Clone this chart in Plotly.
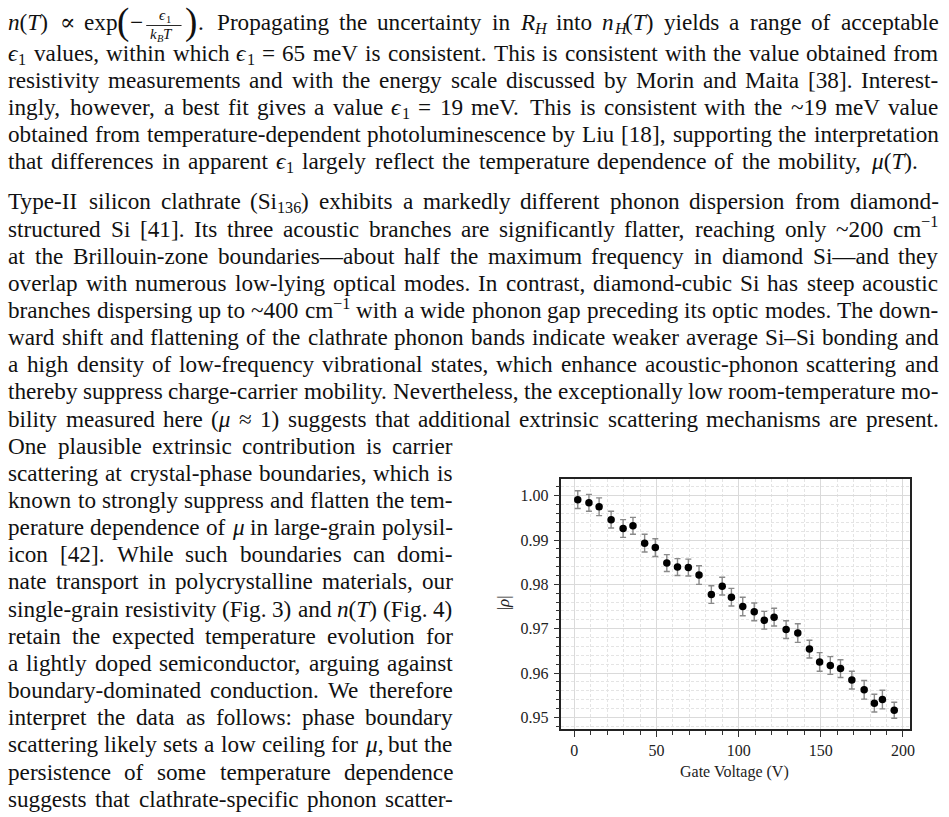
import re
import plotly.graph_objects as go

W, H = 949, 817
SERIF = "Liberation Serif, DejaVu Serif, serif"
INK = "#111111"

# chart data
gate_voltage = [2.1, 8.9, 15.1, 22.4, 29.7, 35.7, 42.8, 49.3, 56.3, 62.8,
                69.4, 75.9, 83.4, 90.0, 95.6, 102.5, 109.5, 115.6, 121.6, 128.9,
                136.0, 143.1, 149.3, 155.8, 162.0, 168.9, 176.4, 182.6, 187.5, 194.7]
rho_abs = [0.9991, 0.9984, 0.9975, 0.9946, 0.9926, 0.9932, 0.9893, 0.9883, 0.9848, 0.9839,
           0.9838, 0.9821, 0.9777, 0.9796, 0.9771, 0.9750, 0.9738, 0.9719, 0.9726, 0.9698,
           0.9690, 0.9654, 0.9625, 0.9617, 0.9610, 0.9584, 0.9562, 0.9532, 0.9540, 0.9516]
rho_err = [0.0020, 0.0019, 0.0020, 0.0019, 0.0020, 0.0019, 0.0020, 0.0020, 0.0019, 0.0019,
           0.0019, 0.0021, 0.0020, 0.0020, 0.0020, 0.0021, 0.0020, 0.0020, 0.0020, 0.0020,
           0.0021, 0.0020, 0.0021, 0.0020, 0.0020, 0.0020, 0.0021, 0.0020, 0.0021, 0.0018]

EPS = "<i>ϵ</i><sub>1</sub>"
MU = "<i>μ</i>"

line1_tail = ("Propagating the uncertainty in <i>R</i><sub><i>H</i></sub> into "
              "<i>n</i><sub><i>H</i></sub>(<i>T</i>) yields a range of acceptable")
para1 = [
    f"{EPS} values, within which {EPS} = 65 meV is consistent. This is consistent with the value obtained from",
    "resistivity measurements and with the energy scale discussed by Morin and Maita [38]. Interest-",
    f"ingly, however, a best fit gives a value {EPS} = 19 meV. This is consistent with the ~19 meV value",
    "obtained from temperature-dependent photoluminescence by Liu [18], supporting the interpretation",
    f"that differences in apparent {EPS} largely reflect the temperature dependence of the mobility, {MU}(<i>T</i>).",
]
para2 = [
    "Type-II silicon clathrate (Si<sub>136</sub>) exhibits a markedly different phonon dispersion from diamond-",
    "structured Si [41]. Its three acoustic branches are significantly flatter, reaching only ~200 cm<sup>−1</sup>",
    "at the Brillouin-zone boundaries—about half the maximum frequency in diamond Si—and they",
    "overlap with numerous low-lying optical modes. In contrast, diamond-cubic Si has steep acoustic",
    "branches dispersing up to ~400 cm<sup>−1</sup> with a wide phonon gap preceding its optic modes. The down-",
    "ward shift and flattening of the clathrate phonon bands indicate weaker average Si–Si bonding and",
    "a high density of low-frequency vibrational states, which enhance acoustic-phonon scattering and",
    "thereby suppress charge-carrier mobility. Nevertheless, the exceptionally low room-temperature mo-",
    f"bility measured here ({MU} ≈ 1) suggests that additional extrinsic scattering mechanisms are present.",
]
para3 = [
    "One plausible extrinsic contribution is carrier",
    "scattering at crystal-phase boundaries, which is",
    "known to strongly suppress and flatten the tem-",
    f"perature dependence of {MU} in large-grain polysil-",
    "icon [42]. While such boundaries can domi-",
    "nate transport in polycrystalline materials, our",
    "single-grain resistivity (Fig. 3) and <i>n</i>(<i>T</i>) (Fig. 4)",
    "retain the expected temperature evolution for",
    "a lightly doped semiconductor, arguing against",
    "boundary-dominated conduction. We therefore",
    "interpret the data as follows: phase boundary",
    f"scattering likely sets a low ceiling for {MU}, but the",
    "persistence of some temperature dependence",
    "suggests that clathrate-specific phonon scatter-",
]

# rough Times widths (1/1000 em) so words can be spread to justify lines
WID = dict(zip(" ()[],.-:;=+~", [250, 333, 333, 333, 333, 250, 250, 333, 278, 278, 564, 564, 541]))
WID.update({d: 500 for d in "0123456789"})
WID.update(dict(zip("ABCDEFGHIJKLMNOPQRSTUVWXYZ",
                    [722, 667, 667, 722, 611, 556, 722, 722, 333, 389, 722, 611, 889,
                     722, 722, 556, 722, 667, 556, 611, 722, 722, 944, 722, 722, 611])))
WID.update(dict(zip("abcdefghijklmnopqrstuvwxyz",
                    [444, 500, 444, 500, 444, 333, 500, 500, 278, 278, 500, 278, 778,
                     500, 500, 500, 500, 333, 389, 278, 500, 500, 722, 500, 500, 444])))
WID.update({"—": 1000, "–": 500, "−": 564, "≈": 549, "∝": 713,
            "μ": 500, "ϵ": 440, "ρ": 500})
ITAL = {"B": 611, "H": 722, "R": 611, "T": 556, "k": 444}


def parse(word):
    segs, ital, mode = [], False, "n"
    for part in re.split(r"(</?(?:i|sub|sup)>)", word):
        if part == "<i>":
            ital = True
        elif part == "</i>":
            ital = False
        elif part in ("<sub>", "<sup>"):
            mode = part[1:-1]
        elif part in ("</sub>", "</sup>"):
            mode = "n"
        elif part:
            segs.append((part, ital, mode))
    return segs


def units(segs):
    total = 0
    for txt, ital, mode in segs:
        w = sum((ITAL.get(c) if ital and c in ITAL else WID.get(c, 500)) for c in txt) / 1000
        total += w * (0.7 if mode != "n" else 1)
    return total


annotations = []
shapes = []


def put(html, x, ymid, size):
    annotations.append(dict(text=html, x=x / W, y=1 - ymid / H, xref="paper", yref="paper",
                            xanchor="left", yanchor="middle", showarrow=False, borderpad=0,
                            font=dict(family=SERIF, size=size, color=INK)))


def place_word(segs, x, yc, base):
    # group segments by mode into runs (one annotation each)
    runs = []
    for txt, ital, mode in segs:
        html = f"<i>{txt}</i>" if ital else txt
        if runs and runs[-1][1] == mode:
            runs[-1][0].append((html, txt, ital, mode))
        else:
            runs.append(([(html, txt, ital, mode)], mode))
    for parts, mode in runs:
        size = base * (0.7 if mode != "n" else 1)
        shift = {"n": 0, "sub": 0.2 * base, "sup": -0.38 * base}[mode]
        ymid = yc + 0.225 * base + shift - 0.3375 * size
        put("".join(p[0] for p in parts), x, ymid, size)
        x += units([(p[1], p[2], p[3]) for p in parts]) * base


LEFT, RIGHT, NARROW = 7.3, 942.0, 454.0
STEP = 27.15
specs = [(line1_tail, 25.0, 217.3, RIGHT)]
for k, s in enumerate(para1):
    specs.append((s, 55.5 + STEP * k, LEFT, 920.0 if k == len(para1) - 1 else RIGHT))
for k, s in enumerate(para2):
    specs.append((s, 204.0 + STEP * k, LEFT, RIGHT))
for k, s in enumerate(para3):
    specs.append((s, 204.0 + STEP * (len(para2) + k), LEFT, NARROW))

FS = 23.2
for s, y, x0, x1 in specs:
    ws = [parse(w) for w in s.split(" ")]
    FS = min(FS, (x1 - x0) / (sum(units(w) for w in ws) + 0.18 * (len(ws) - 1)))

for s, y, x0, x1 in specs:
    ws = [parse(w) for w in s.split(" ")]
    widths = [units(w) * FS for w in ws]
    gap = (x1 - x0 - sum(widths)) / max(len(ws) - 1, 1)
    x = x0
    for w, wd in zip(ws, widths):
        place_word(w, x, y, FS)
        x += wd + gap

# opening formula of line 1: n(T) ∝ exp(−ϵ1/kBT).
y1 = 25.0
PAREN = 37
place_word(parse("<i>n</i>(<i>T</i>)"), 7.3, y1, FS)
place_word(parse("∝"), 59.0, y1, FS)
place_word(parse("exp"), 83.0, y1, FS)
put("(", 116.5, y1 - 0.0875 * PAREN, PAREN)
place_word(parse("−"), 130.0, y1, FS)
small = 15.0
place_word(parse(EPS), 159.0, 16.5, small)
shapes.append(dict(type="line", xref="paper", yref="paper", x0=147 / W, x1=182.5 / W,
                   y0=1 - 25.5 / H, y1=1 - 25.5 / H, line=dict(color=INK, width=0.9)))
place_word(parse("<i>k</i><sub><i>B</i></sub><i>T</i>"), 150.0, 35.5, small)
put(")", 184.5, y1 - 0.0875 * PAREN, PAREN)
place_word(parse("."), 198.5, y1, FS)

# axis titles of the small chart
annotations.append(dict(text="Gate Voltage (V)", x=738.5 / W, y=1 - 771.5 / H, xref="paper",
                        yref="paper", xanchor="center", yanchor="middle", showarrow=False,
                        font=dict(family=SERIF, size=16, color="#222")))
annotations.append(dict(text="|<i>ρ</i>|", x=506 / W, y=1 - 603 / H, xref="paper",
                        yref="paper", xanchor="center", yanchor="middle", showarrow=False,
                        textangle=-90, font=dict(family=SERIF, size=17, color="#222")))

fig = go.Figure()
fig.add_trace(go.Scatter(
    x=gate_voltage, y=rho_abs, mode="markers",
    marker=dict(size=7.5, color="black"),
    error_y=dict(type="data", array=rho_err, color="#8a8a8a", thickness=1.4, width=3),
    showlegend=False, hoverinfo="skip",
))

axis_common = dict(
    ticks="outside", ticklen=6, tickwidth=1, tickcolor="#333",
    showline=True, linecolor="#222", linewidth=1.5, mirror=True,
    showgrid=True, gridcolor="#dadada", gridwidth=1.2, zeroline=False,
    tickfont=dict(family=SERIF, size=16, color="#222"),
)
minor_common = dict(ticks="outside", ticklen=4, tickcolor="#333", showgrid=True,
                    gridcolor="#e4e4e4", griddash="3px,2px", gridwidth=0.8)
fig.update_xaxes(
    domain=[564.3 / W, 915.0 / W], range=[-7.9, 204.4], tick0=0, dtick=50,
    ticklabelstandoff=0, minor=dict(dtick=10, **minor_common), **axis_common,
)
fig.update_yaxes(
    domain=[1 - 729.3 / H, 1 - 479.3 / H], range=[0.9473, 1.0037], tick0=0.95, dtick=0.01,
    tickformat=".2f", ticklabelstandoff=2, minor=dict(dtick=0.002, **minor_common),
    **axis_common,
)
fig.update_layout(
    width=W, height=H, autosize=False,
    margin=dict(l=0, r=0, t=0, b=0),
    paper_bgcolor="white", plot_bgcolor="white",
    annotations=annotations, shapes=shapes,
)

fig.write_html("out.html", config={"displayModeBar": False},
               post_script="document.body.style.margin='0';document.body.style.overflow='hidden';")
